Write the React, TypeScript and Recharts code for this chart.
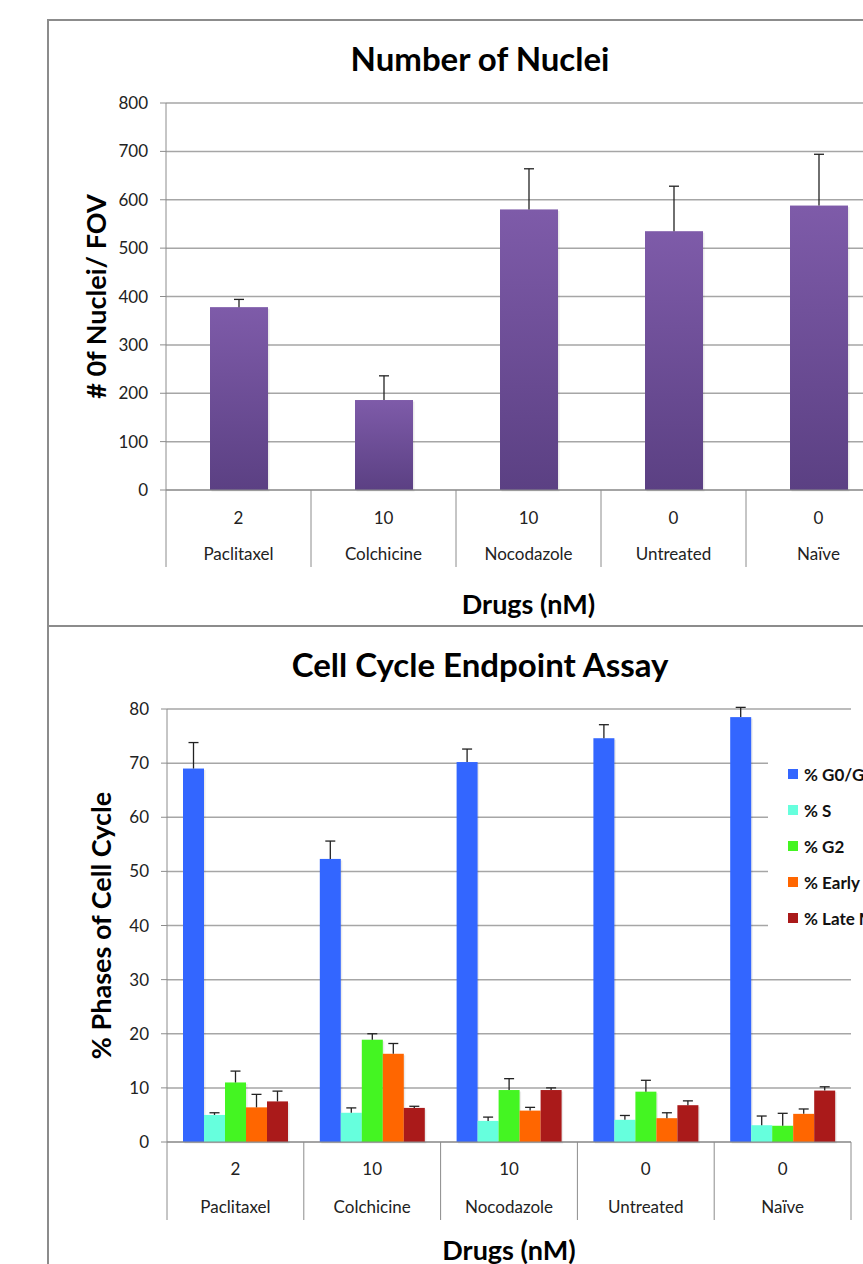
import React from "react";
import { BarChart, Bar, XAxis, YAxis, CartesianGrid, Legend, Label } from "recharts";

// shared categories
const drugs = ["Paclitaxel", "Colchicine", "Nocodazole", "Untreated", "Naïve"];
const doses = ["2", "10", "10", "0", "0"];

// Number of Nuclei
const nuclei = [378, 186, 580, 535, 588];
const nucleiErr = [16, 50, 84, 93, 106];
const nucleiTicks = [0, 100, 200, 300, 400, 500, 600, 700, 800];

// Cell Cycle Endpoint Assay
const phaseNames = ["% G0/G1", "% S", "% G2", "% Early M", "% Late M"];
const phaseKeys = ["g0", "s", "g2", "early", "late"];
const phaseColors = ["#3366ff", "#66ffdd", "#44f522", "#ff6600", "#aa1a1a"];
const g0g1 = [69.0, 52.3, 70.2, 74.6, 78.5];
const g0g1Err = [4.8, 3.3, 2.4, 2.5, 1.8];
const sPhase = [5.0, 5.4, 3.9, 4.1, 3.1];
const sErr = [0.4, 0.9, 0.7, 0.8, 1.7];
const g2 = [11.0, 18.9, 9.6, 9.3, 3.0];
const g2Err = [2.1, 1.1, 2.1, 2.1, 2.3];
const earlyM = [6.4, 16.3, 5.8, 4.4, 5.2];
const earlyErr = [2.4, 1.9, 0.6, 1.0, 0.9];
const lateM = [7.5, 6.3, 9.6, 6.8, 9.5];
const lateErr = [1.9, 0.3, 0.4, 0.8, 0.7];
const phaseTicks = [0, 10, 20, 30, 40, 50, 60, 70, 80];

const nucleiData = drugs.map((d, i) => ({ drug: d, dose: doses[i], n: nuclei[i], nErr: nucleiErr[i] }));

const phaseData = drugs.map((d, i) => ({
  drug: d,
  dose: doses[i],
  g0: g0g1[i], g0Err: g0g1Err[i],
  s: sPhase[i], sErr: sErr[i],
  g2: g2[i], g2Err: g2Err[i],
  early: earlyM[i], earlyErr: earlyErr[i],
  late: lateM[i], lateErr: lateErr[i],
}));

const FONT = "Lato, 'Open Sans', sans-serif";
const GRID = "#a6a6a6";
const AXIS = "#8c8c8c";
const TICK_FS = 17;

// plot geometry (chart-local)
const TOP_W = 920;
const TOP_H = 626;
const TOP_LEFT = 166;
const TOP_RIGHT = 891;
const TOP_TOP = 103;
const TOP_BOTTOM = 490;

const BOT_W = 863;
const BOT_H = 638;
const BOT_LEFT = 167;
const BOT_RIGHT = 851;
const BOT_TOP = 83;
const BOT_BOTTOM = 516;

function makeTick(band: number, n: number, dy1: number, dy2: number, sep: number) {
  return (props: any) => {
    const { x, y, payload, index } = props;
    const row = drugs.indexOf(payload.value);
    const left = x - band / 2;
    return (
      <g>
        <line x1={left} x2={left} y1={y} y2={y + sep} stroke={AXIS} strokeWidth={1} />
        {index === n - 1 && (
          <line x1={x + band / 2} x2={x + band / 2} y1={y} y2={y + sep} stroke={AXIS} strokeWidth={1} />
        )}
        <text x={x} y={y + dy1} textAnchor="middle" dominantBaseline="central" fontFamily={FONT} fontSize={TICK_FS} fill="#222">
          {doses[row]}
        </text>
        <text x={x} y={y + dy2} textAnchor="middle" dominantBaseline="central" fontFamily={FONT} fontSize={TICK_FS} fill="#222">
          {payload.value}
        </text>
      </g>
    );
  };
}

function barWithErr(errKey: string, valKey: string, fill: string, gradId?: string) {
  return (props: any) => {
    const { x, y, width, height, payload, index } = props;
    const v = payload[valKey];
    const e = v ? (payload[errKey] * height) / v : 0;
    const cx = x + width / 2;
    const id = gradId ? `${gradId}-${index}` : undefined;
    return (
      <g>
        {id && (
          <defs>
            <linearGradient id={id} x1="0" y1="0" x2="0" y2="1">
              <stop offset="0%" stopColor="#7e5ba9" />
              <stop offset="100%" stopColor="#5b4083" />
            </linearGradient>
          </defs>
        )}
        <rect x={x + 1.5} y={y + 1.5} width={width} height={height} fill="#000" opacity={0.08} />
        <rect x={x} y={y} width={width} height={height} fill={id ? `url(#${id})` : fill} />
        <line x1={cx} x2={cx} y1={y} y2={y - e} stroke="#222" strokeWidth={1.3} />
        <line x1={cx - 5} x2={cx + 5} y1={y - e} y2={y - e} stroke="#222" strokeWidth={1.3} />
      </g>
    );
  };
}

function PhaseLegend() {
  return (
    <div style={{ background: "#fff", width: 120, paddingTop: 0 }}>
      {phaseNames.map((name, i) => (
        <div key={name} style={{ height: 36, display: "flex", alignItems: "center", whiteSpace: "nowrap" }}>
          <span style={{ display: "inline-block", width: 10, height: 10, background: phaseColors[i], marginLeft: 20, marginRight: 6 }} />
          <span style={{ fontFamily: FONT, fontWeight: 700, fontSize: 17, color: "#111" }}>{name}</span>
        </div>
      ))}
    </div>
  );
}

export default function App() {
  const topBand = (TOP_RIGHT - TOP_LEFT) / drugs.length;
  const botBand = (BOT_RIGHT - BOT_LEFT) / drugs.length;
  return (
    <div style={{ position: "absolute", left: 0, top: 0, width: 863, height: 1264, overflow: "hidden", background: "#fff" }}>
      {/* frame */}
      <div style={{ position: "absolute", left: 48, top: 19, width: 900, height: 2, background: AXIS }} />
      <div style={{ position: "absolute", left: 47, top: 19, width: 2, height: 1300, background: AXIS }} />
      <div style={{ position: "absolute", left: 48, top: 625, width: 900, height: 2, background: AXIS }} />

      <div style={{ position: "absolute", left: 48, width: 864, top: 58, transform: "translateY(-50%)", textAlign: "center", fontFamily: FONT, fontWeight: 700, fontSize: 33, color: "#000", lineHeight: 1 }}>
        Number of Nuclei
      </div>
      <div style={{ position: "absolute", left: 0, top: 0 }}>
        <BarChart width={TOP_W} height={TOP_H} data={nucleiData} margin={{ top: TOP_TOP, right: TOP_W - TOP_RIGHT, left: 0, bottom: 0 }} barSize={58}>
          <CartesianGrid vertical={false} stroke={GRID} strokeWidth={1.5} />
          <YAxis
            width={TOP_LEFT}
            domain={[0, 800]}
            ticks={nucleiTicks}
            interval={0}
            stroke={AXIS}
            tickSize={6}
            tickMargin={12}
            tick={{ fontFamily: FONT, fontSize: TICK_FS, fill: "#222" }}
          >
            <Label
              content={() => (
                <text x={95} y={(TOP_TOP + TOP_BOTTOM) / 2} transform={`rotate(-90 95 ${(TOP_TOP + TOP_BOTTOM) / 2})`} textAnchor="middle" dominantBaseline="central" fontFamily={FONT} fontWeight={700} fontSize={27} fill="#000">
                  # 0f Nuclei/ FOV
                </text>
              )}
            />
          </YAxis>
          <XAxis
            dataKey="drug"
            height={TOP_H - TOP_BOTTOM}
            stroke={AXIS}
            tickLine={false}
            tickSize={0}
            tickMargin={0}
            interval={0}
            tick={makeTick(topBand, drugs.length, 27, 63, 77)}
          >
            <Label
              content={() => (
                <text x={(TOP_LEFT + TOP_RIGHT) / 2} y={603} textAnchor="middle" dominantBaseline="central" fontFamily={FONT} fontWeight={700} fontSize={27} fill="#000">
                  Drugs (nM)
                </text>
              )}
            />
          </XAxis>
          <Bar dataKey="n" isAnimationActive={false} shape={barWithErr("nErr", "n", "#6c4e96", "nucGrad")} />
        </BarChart>
      </div>

      <div style={{ position: "absolute", left: 48, width: 864, top: 664, transform: "translateY(-50%)", textAlign: "center", fontFamily: FONT, fontWeight: 700, fontSize: 33, color: "#000", lineHeight: 1 }}>
        Cell Cycle Endpoint Assay
      </div>
      <div style={{ position: "absolute", left: 0, top: 626 }}>
        <BarChart width={BOT_W} height={BOT_H} data={phaseData} margin={{ top: BOT_TOP, right: BOT_W - BOT_RIGHT, left: 0, bottom: 0 }} barSize={21} barGap={0}>
          <CartesianGrid vertical={false} stroke={GRID} strokeWidth={1.5} />
          <YAxis
            width={BOT_LEFT}
            domain={[0, 80]}
            ticks={phaseTicks}
            interval={0}
            stroke={AXIS}
            tickSize={6}
            tickMargin={12}
            tick={{ fontFamily: FONT, fontSize: TICK_FS, fill: "#222" }}
          >
            <Label
              content={() => (
                <text x={100} y={(BOT_TOP + BOT_BOTTOM) / 2} transform={`rotate(-90 100 ${(BOT_TOP + BOT_BOTTOM) / 2})`} textAnchor="middle" dominantBaseline="central" fontFamily={FONT} fontWeight={700} fontSize={27} fill="#000">
                  % Phases of Cell Cycle
                </text>
              )}
            />
          </YAxis>
          <XAxis
            dataKey="drug"
            height={BOT_H - BOT_BOTTOM}
            stroke={AXIS}
            tickLine={false}
            tickSize={0}
            tickMargin={0}
            interval={0}
            tick={makeTick(botBand, drugs.length, 26, 64, 78)}
          >
            <Label
              content={() => (
                <text x={(BOT_LEFT + BOT_RIGHT) / 2} y={623} textAnchor="middle" dominantBaseline="central" fontFamily={FONT} fontWeight={700} fontSize={27} fill="#000">
                  Drugs (nM)
                </text>
              )}
            />
          </XAxis>
          <Legend
            layout="vertical"
            align="center"
            verticalAlign="middle"
            wrapperStyle={{ left: 768, top: 130, width: 120 }}
            content={() => <PhaseLegend />}
          />
          {phaseKeys.map((k, i) => (
            <Bar
              key={k}
              dataKey={k}
              name={phaseNames[i]}
              fill={phaseColors[i]}
              isAnimationActive={false}
              shape={barWithErr(`${k}Err`, k, phaseColors[i])}
            />
          ))}
        </BarChart>
      </div>
    </div>
  );
}
